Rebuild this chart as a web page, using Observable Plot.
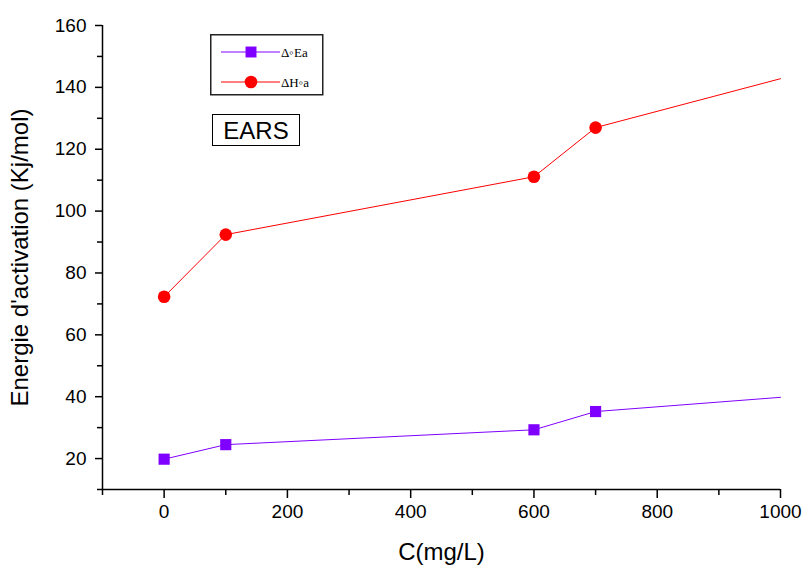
<!DOCTYPE html>
<html>
<head>
<meta charset="utf-8">
<script src="https://cdn.jsdelivr.net/npm/d3@7"></script>
<script src="https://cdn.jsdelivr.net/npm/@observablehq/plot@0.6"></script>
<style>
  body { margin: 0; background: #fff; }
  #wrap { position: relative; width: 805px; height: 567px; font-family: "Liberation Sans", Arial, sans-serif; }
  #wrap svg.chart g[aria-label="x-axis label"] text { font-size: 24px; }
  #wrap svg.chart g[aria-label="y-axis label"] text { font-size: 24px; }
  #legend { position: absolute; left: 210px; top: 34px; }
  #tag { position: absolute; left: 212px; top: 114px; width: 88px; height: 32px; box-sizing: border-box;
         border: 1px solid #000; font: 24px "Liberation Sans", Arial, sans-serif; text-align: center; line-height: 31px; }
</style>
</head>
<body>
<div id="wrap"></div>
<script>
// ---- data ----
const concentrations = [0, 100, 600, 700, 1000];          // C (mg/L)
const deltaEa = [19.8, 24.5, 29.3, 35.2, 39.8];          // Δ°Ea (kJ/mol)
const deltaHa = [72.3, 92.4, 111.1, 127.0, 142.8];       // ΔH°a (kJ/mol)
const hasMarker = [true, true, true, true, false];
const seriesNames = ["Δ◦Ea", "ΔH◦a"];
const seriesColors = ["#8000ff", "#ff0000"];
const seriesSymbols = ["square", "circle"];
const xMajorTicks = [0, 200, 400, 600, 800, 1000];
const xMinorTicks = [-100, 100, 300, 500, 700, 900];
const yMajorTicks = [20, 40, 60, 80, 100, 120, 140, 160];
const yMinorTicks = [10, 30, 50, 70, 90, 110, 130, 150];
const xLabel = "C(mg/L)";
const yLabel = "Energie d'activation (Kj/mol)";
const tagText = "EARS";

const rows = concentrations.flatMap((c, i) => [
  {c, v: deltaEa[i], s: seriesNames[0], m: hasMarker[i]},
  {c, v: deltaHa[i], s: seriesNames[1], m: hasMarker[i]}
]);

const chart = Plot.plot({
  width: 805, height: 567,
  marginLeft: 102, marginRight: 25, marginTop: 25, marginBottom: 78,
  style: {fontFamily: "'Liberation Sans', Arial, sans-serif", color: "#000", background: "#fff"},
  x: {domain: [-100, 1000], axis: null},
  y: {domain: [10, 160], axis: null},
  color: {domain: seriesNames, range: seriesColors},
  symbol: {domain: seriesNames, range: seriesSymbols},
  marks: [
    Plot.axisX({ticks: xMinorTicks, tickSize: 6, tickFormat: () => "", strokeWidth: 1.5, label: null}),
    Plot.axisX({ticks: xMajorTicks, tickSize: 9, tickPadding: 6, fontSize: 19, strokeWidth: 1.5,
                tickFormat: d3.format("d"),
                label: xLabel, labelAnchor: "center", labelOffset: 70, labelArrow: "none"}),
    Plot.axisY({ticks: yMinorTicks, tickSize: 5, tickFormat: () => "", strokeWidth: 1.5, label: null}),
    Plot.axisY({ticks: yMajorTicks, tickSize: 7, tickPadding: 9, fontSize: 19, strokeWidth: 1.5,
                tickFormat: d3.format("d"),
                label: yLabel, labelAnchor: "center", labelOffset: 92, labelArrow: "none"}),
    Plot.ruleY([10], {stroke: "#000", strokeWidth: 1.5}),
    Plot.ruleX([-100], {stroke: "#000", strokeWidth: 1.5}),
    Plot.line(rows, {x: "c", y: "v", z: "s", stroke: "s", strokeWidth: 1}),
    Plot.dot(rows.filter(d => d.m), {x: "c", y: "v", symbol: "s", fill: "s", stroke: "none", r: 6.3})
  ]
});
chart.classList.add("chart");
const wrap = document.getElementById("wrap");
wrap.appendChild(chart);

// legend (framed box with line+marker samples)
const lg = d3.select(wrap).append("svg").attr("id", "legend").attr("width", 114).attr("height", 62);
lg.append("rect").attr("x", 0.75).attr("y", 0.75).attr("width", 112).attr("height", 60)
  .attr("fill", "#fff").attr("stroke", "#222").attr("stroke-width", 1.5);
seriesNames.forEach((name, i) => {
  const y = 18 + i * 30;
  lg.append("line").attr("x1", 11).attr("x2", 70).attr("y1", y).attr("y2", y)
    .attr("stroke", seriesColors[i]).attr("stroke-width", 1);
  const sym = seriesSymbols[i] === "square" ? d3.symbolSquare : d3.symbolCircle;
  lg.append("path").attr("d", d3.symbol(sym, seriesSymbols[i] === "square" ? 120 : 125)())
    .attr("transform", `translate(41,${y})`).attr("fill", seriesColors[i]);
  lg.append("text").attr("x", 71).attr("y", y).attr("dy", "0.35em")
    .attr("font-family", "'Liberation Serif', 'Times New Roman', serif").attr("font-size", 13)
    .text(name);
});

// annotation box
d3.select(wrap).append("div").attr("id", "tag").text(tagText);
</script>
</body>
</html>
